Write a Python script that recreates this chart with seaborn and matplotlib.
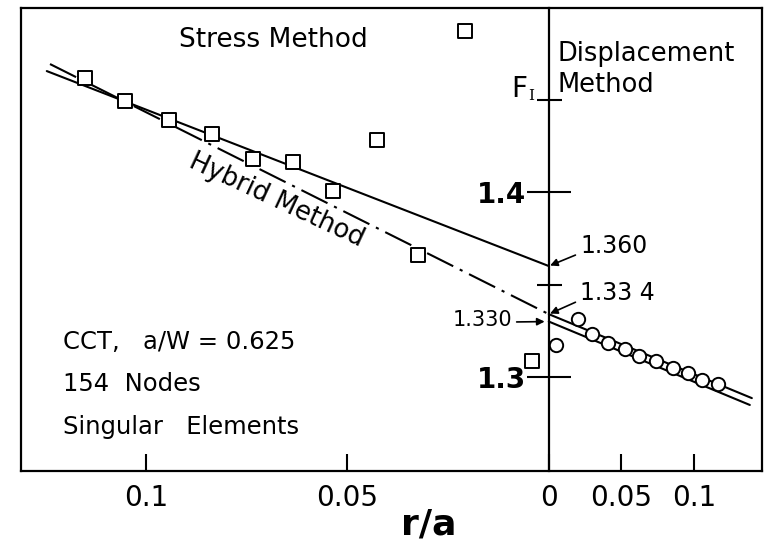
import numpy as np
import pandas as pd
import matplotlib
matplotlib.use("Agg")
import matplotlib.pyplot as plt
import seaborn as sns

# ---------------- data ----------------
# Stress method points: r/a measured to the LEFT of the origin
stress_ra = [0.1151, 0.1052, 0.0943, 0.0836, 0.0734, 0.0635, 0.0536, 0.0427, 0.0208, 0.0325, 0.0042]
stress_F = [1.4616, 1.4492, 1.4389, 1.4314, 1.4178, 1.4162, 1.4005, 1.4281, 1.4870, 1.3659, 1.3086]

# Displacement method points: r/a measured to the RIGHT of the origin
disp_ra = [0.0048, 0.0200, 0.0297, 0.0407, 0.0524, 0.0621, 0.0738, 0.0855, 0.0959, 0.1055, 0.1166]
disp_F = [1.3173, 1.3314, 1.3232, 1.3184, 1.3151, 1.3114, 1.3086, 1.3049, 1.3022, 1.2984, 1.2962]

# Fitted / extrapolation lines
stress_fit_ra = [0.1246, 0.0]
stress_fit_F = [1.4654, 1.360]
hybrid_ra = [0.1238, 0.0]
hybrid_F = [1.4692, 1.334]
disp_upper_ra = [0.0, 0.140]
disp_upper_F = [1.334, 1.2886]
disp_lower_ra = [0.0, 0.1386]
disp_lower_F = [1.330, 1.2849]

annot_F = [1.360, 1.334, 1.330]
annot_labels = ["1.360", "1.33 4", "1.330"]

x_ticks_stress = [0.1, 0.05]
x_ticks_disp = [0.0, 0.05, 0.1]
x_tick_labels = ["0.1", "0.05", "0", "0.05", "0.1"]
y_major = [1.3, 1.4]
y_major_labels = ["1.3", "1.4"]
y_minor = [1.35, 1.45]

# ---------------- style ----------------
sns.set_style("white")
plt.rcParams["font.family"] = ["DejaVu Sans"]
plt.rcParams["axes.edgecolor"] = "black"
plt.rcParams["text.color"] = "black"
plt.rcParams["axes.labelcolor"] = "black"
plt.rcParams["xtick.color"] = "black"
plt.rcParams["ytick.color"] = "black"

# piecewise x scale: stress side (negative) is stretched relative to the displacement side
K = 0.36


def fwd(s):
    s = np.asarray(s, dtype=float)
    return np.where(s < 0, s, s * K)


def inv(u):
    u = np.asarray(u, dtype=float)
    return np.where(u < 0, u, u / K)


W, H = 770, 542
fig = plt.figure(figsize=(W / 100, H / 100), dpi=100)
L, R, T, B = 21, 762, 8, 471
ax = fig.add_axes([L / W, 1 - B / H, (R - L) / W, (B - T) / H])
ax.set_xscale("function", functions=(fwd, inv))


def pax(x):
    return (x - L) / (R - L)


def pay(y):
    return (B - y) / (B - T)


stress_df = pd.DataFrame({"s": [-v for v in stress_ra], "F": stress_F})
disp_df = pd.DataFrame({"s": disp_ra, "F": disp_F})

lw = 1.5
sns.lineplot(x=[-v for v in stress_fit_ra], y=stress_fit_F, ax=ax, color="black",
             lw=lw, estimator=None, sort=False, zorder=2)
sns.lineplot(x=[-v for v in hybrid_ra], y=hybrid_F, ax=ax, color="black",
             lw=lw, estimator=None, sort=False, zorder=2)
ax.lines[-1].set_dashes((14, 3.5, 1.5, 3.5))
sns.lineplot(x=disp_upper_ra, y=disp_upper_F, ax=ax, color="black",
             lw=lw, estimator=None, sort=False, zorder=2)
sns.lineplot(x=disp_lower_ra, y=disp_lower_F, ax=ax, color="black",
             lw=lw, estimator=None, sort=False, zorder=2)

sns.scatterplot(data=stress_df, x="s", y="F", ax=ax, marker="s", s=100,
                color="white", edgecolor="black", linewidth=1.4, zorder=3, clip_on=False)
sns.scatterplot(data=disp_df, x="s", y="F", ax=ax, marker="o", s=92,
                color="white", edgecolor="black", linewidth=1.4, zorder=3, clip_on=False)

ax.set_xlim(-0.131, 0.147)
ax.set_ylim(1.2492, 1.4995)

for sp in ax.spines.values():
    sp.set_visible(True)
    sp.set_linewidth(1.6)
    sp.set_color("black")

# x ticks
ax.set_xticks([-v for v in x_ticks_stress] + x_ticks_disp, labels=x_tick_labels)
ax.tick_params(axis="x", direction="in", length=12, width=1.5, pad=9, labelsize=20, bottom=True)
ax.set_yticks([])
ax.set_ylabel("")
ax.set_xlabel("r/a", fontsize=26, fontweight="bold")
ax.xaxis.set_label_coords(pax(429), pay(524))
ax.xaxis.label.set_va("center")

# vertical F_I axis at r/a = 0
frac = ax.transAxes.inverted().transform(ax.transData.transform((0.0, 1.3)))[0]
sec = ax.secondary_yaxis(frac)
sec.yaxis.set_ticks_position("left")
sec.yaxis.set_label_position("left")
sec.set_yticks(y_major, labels=y_major_labels)
sec.set_yticks(y_minor, minor=True)
sec.tick_params(which="major", direction="inout", length=31, width=1.5, pad=1, labelsize=20,
                left=True, right=False, labelleft=True, labelright=False)
sec.tick_params(which="minor", direction="inout", length=18, width=1.5,
                left=True, right=False)
for lab in sec.get_yticklabels():
    lab.set_fontweight("bold")
for name, sp in sec.spines.items():
    sp.set_linewidth(1.6)
    sp.set_color("black")

# F_I label
ax.text(pax(527), pay(97), "F", transform=ax.transAxes, ha="right", va="baseline", fontsize=20)
ax.text(pax(528), pay(100), "I", transform=ax.transAxes, ha="left", va="baseline",
        fontsize=11, family="DejaVu Serif")

# panel texts
ax.text(pax(273), pay(40), "Stress Method", transform=ax.transAxes, ha="center", va="center", fontsize=19)
ax.text(pax(557), pay(54), "Displacement", transform=ax.transAxes, ha="left", va="center", fontsize=18.5)
ax.text(pax(557), pay(85), "Method", transform=ax.transAxes, ha="left", va="center", fontsize=18.5)
ax.text(pax(277), pay(200), "Hybrid Method", transform=ax.transAxes, ha="center", va="center",
        fontsize=18.5, rotation=-25, rotation_mode="anchor")

ax.text(pax(63), pay(342), "CCT,   a/W = 0.625", transform=ax.transAxes, ha="left", va="center", fontsize=17.5)
ax.text(pax(63), pay(384), "154  Nodes", transform=ax.transAxes, ha="left", va="center", fontsize=17.5)
ax.text(pax(63), pay(427), "Singular   Elements", transform=ax.transAxes, ha="left", va="center", fontsize=17.5)

# annotations with arrows
arrow = dict(arrowstyle="-|>", color="black", lw=1.2, mutation_scale=11, shrinkA=1, shrinkB=1)
ax.annotate(annot_labels[0], xy=(0.0, annot_F[0]), xycoords="data",
            xytext=(pax(580), pay(246)), textcoords="axes fraction", ha="left", va="center",
            fontsize=17, arrowprops=dict(arrow, relpos=(0.0, 0.2)))
ax.annotate(annot_labels[1], xy=(0.0, annot_F[1]), xycoords="data",
            xytext=(pax(580), pay(293)), textcoords="axes fraction", ha="left", va="center",
            fontsize=17, arrowprops=dict(arrow, relpos=(0.0, 0.2)))
ax.annotate(annot_labels[2], xy=(0.0, annot_F[2]), xycoords="data",
            xytext=(pax(512), pay(320)), textcoords="axes fraction", ha="right", va="center",
            fontsize=15, arrowprops=dict(arrow, relpos=(1.0, 0.4), shrinkB=3))

fig.savefig("out.png", dpi=100)
